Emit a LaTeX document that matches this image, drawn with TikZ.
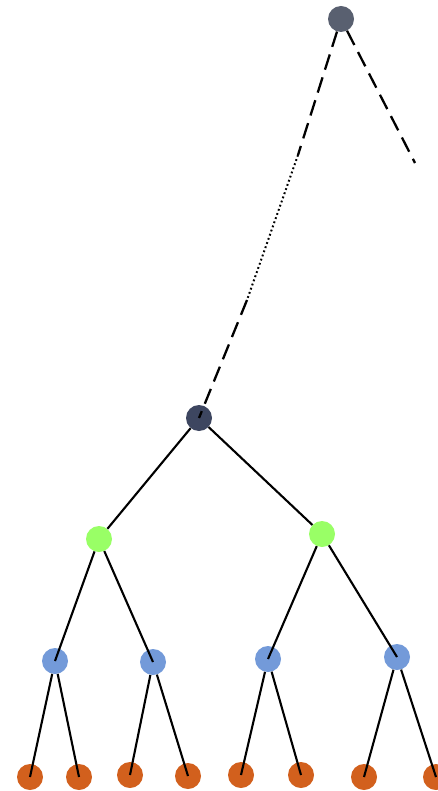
\documentclass[tikz,border=0pt]{standalone}
\begin{document}
\begin{tikzpicture}[x=1pt,y=-1pt,
  dot/.style={circle,inner sep=0pt,minimum size=26pt,draw=none},
  topc/.style={dot,fill=topcol},
  darkc/.style={dot,fill=darkcol},
  greenc/.style={dot,fill=greencol},
  bluec/.style={dot,fill=bluecol},
  orangec/.style={dot,fill=orangecol},
  edge/.style={line width=2.1pt,black},
  dashedge/.style={line width=2.3pt,black,dash pattern=on 16pt off 8pt},
  dotedge/.style={line width=2pt,black,dash pattern=on 1.8pt off 2.6pt}]
\definecolor{topcol}{HTML}{596070}
\definecolor{darkcol}{HTML}{3D4660}
\definecolor{greencol}{HTML}{99FF66}
\definecolor{bluecol}{HTML}{739AD9}
\definecolor{orangecol}{HTML}{D2601D}
\useasboundingbox (0,0) rectangle (438,791);
\node[topc] (t) at (341,19) {};
\node[darkc] (d) at (199,418) {};
\node[greenc] (g1) at (99,539) {};
\node[greenc] (g2) at (322,534) {};
\node[bluec] (b1) at (55,661) {};
\node[bluec] (b2) at (153,662) {};
\node[bluec] (b3) at (268,659) {};
\node[bluec] (b4) at (397,657) {};
\node[orangec] (o1) at (30,777) {};
\node[orangec] (o2) at (79,777) {};
\node[orangec] (o3) at (130,775) {};
\node[orangec] (o4) at (188,776) {};
\node[orangec] (o5) at (241,775) {};
\node[orangec] (o6) at (301,775) {};
\node[orangec] (o7) at (364,777) {};
\node[orangec] (o8) at (436,777) {};
\coordinate (p1) at (298,155);
\coordinate (p2) at (247,300);
\coordinate (r) at (415,163);
\draw[dashedge] (t) -- (p1);
\draw[dotedge] (p1) -- (p2);
\draw[dashedge] (p2) -- (d.center);
\draw[dashedge] (t) -- (r);
\draw[edge] (d) -- (g1);
\draw[edge] (d) -- (g2);
\draw[edge] (g1) -- (b1.center);
\draw[edge] (g1) -- (b2.center);
\draw[edge] (g2) -- (b3.center);
\draw[edge] (g2) -- (b4.center);
\draw[edge] (b1) -- (o1.center);
\draw[edge] (b1) -- (o2.center);
\draw[edge] (b2) -- (o3.center);
\draw[edge] (b2) -- (o4.center);
\draw[edge] (b3) -- (o5.center);
\draw[edge] (b3) -- (o6.center);
\draw[edge] (b4) -- (o7.center);
\draw[edge] (b4) -- (o8.center);
\end{tikzpicture}
\end{document}
